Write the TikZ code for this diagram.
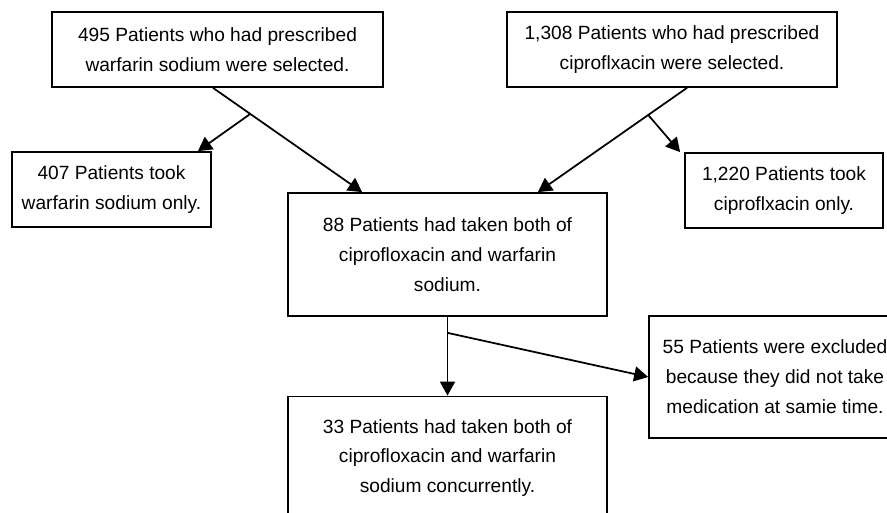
\documentclass[tikz,border=0pt]{standalone}
\usepackage{fontspec}
\setmainfont{Liberation Sans}
\usetikzlibrary{arrows.meta,calc}
\tikzset{
    flowbox/.style={
        draw=black,
        fill=white,
        line width=1pt,
        inner sep=0pt,
        align=center,
        font=\fontsize{10.9}{17}\selectfont
    },
    smallbox/.style={
        flowbox,
        minimum height=1.5cm
    },
    tallbox/.style={
        flowbox,
        minimum height=2.46cm
    },
    flowarrow/.style={
        -{Triangle[length=2.8mm,width=3mm]},
        draw=black,
        line width=1pt
    }
}

\begin{document}
\begin{tikzpicture}[x=0.02cm,y=-0.02cm]
        \useasboundingbox (0,0) rectangle (887,513);
        \clip (0,0) rectangle (887,513);

        \node[smallbox,minimum width=6.62cm] (warfsel) at (217.5,49.5)
            {495 Patients who had prescribed\\warfarin sodium were selected.};
        \node[smallbox,minimum width=6.6cm] (ciprosel) at (672,49.5)
            {1,308 Patients who had prescribed\\ciproflxacin were selected.};
        \node[smallbox,minimum width=3.98cm] (warfonly) at (111.5,189.5)
            {407 Patients took\\warfarin sodium only.};
        \node[smallbox,minimum width=3.96cm] (ciproonly) at (784,190.5)
            {1,220 Patients took\\ciproflxacin only.};
        \node[tallbox,minimum width=6.38cm] (both) at (447.5,254.5)
            {88 Patients had taken both of\\ciprofloxacin and warfarin\\sodium.};
        \node[tallbox,minimum width=5.04cm,minimum height=2.44cm] (excluded) at (775,377)
            {55 Patients were excluded\\because they did not take\\medication at samie time.};
        \node[tallbox,minimum width=6.38cm] (concurrent) at (447.5,458)
            {33 Patients had taken both of\\ciprofloxacin and warfarin\\sodium concurrently.};

        \coordinate (warfstart) at ([xshift=-0.09cm]warfsel.south);
        \coordinate (warfend) at ([xshift=1.5cm]both.north west);
        \coordinate (warfsplit) at ($(warfstart)!0.25!(warfend)$);
        \coordinate (ciprostart) at ([xshift=0.3cm]ciprosel.south);
        \coordinate (ciproend) at ([xshift=-1.4cm]both.north east);
        \coordinate (ciprosplit) at ($(ciprostart)!0.26!(ciproend)$);
        \coordinate (bothsplit) at ([yshift=-0.32cm]both.south);

        \draw[flowarrow] (warfstart) -- (warfend);
        \draw[flowarrow] (warfsplit) -- ([xshift=-0.28cm]warfonly.north east);
        \draw[flowarrow] (ciprostart) -- (ciproend);
        \draw[flowarrow] (ciprosplit) -- ([xshift=-0.08cm]ciproonly.north west);
        \draw[flowarrow] (both.south) -- (concurrent.north);
        \draw[flowarrow] (bothsplit) -- (excluded.west);
    \end{tikzpicture}
\end{document}
